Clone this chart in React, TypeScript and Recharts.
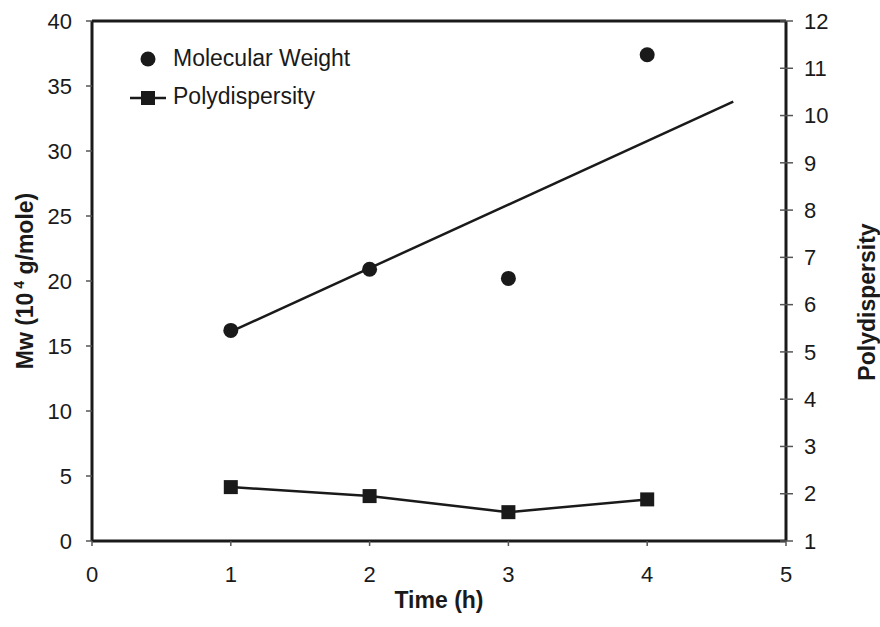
import React from "react";
import {
  ComposedChart,
  Line,
  Scatter,
  XAxis,
  YAxis,
  ReferenceLine,
  Legend,
} from "recharts";

const times = [1, 2, 3, 4];
const molecularWeight = [16.2, 20.9, 20.2, 37.4];
const polydispersity = [2.14, 1.95, 1.61, 1.88];
const trendTimes = [1, 4.62];
const trendWeight = [16.1, 33.8];

const timeTicks = [0, 1, 2, 3, 4, 5];
const mwTicks = [0, 5, 10, 15, 20, 25, 30, 35, 40];
const pdTicks = [1, 2, 3, 4, 5, 6, 7, 8, 9, 10, 11, 12];

const mwData = times.map((t, i) => ({ time: t, mw: molecularWeight[i] }));
const pdData = times.map((t, i) => ({ time: t, pd: polydispersity[i] }));
const trendData = trendTimes.map((t, i) => ({ time: t, mw: trendWeight[i] }));

const ink = "#1a1a1a";
const font = "'Liberation Sans', Arial, sans-serif";
const tickStyle = { fill: ink, fontSize: 22, fontFamily: font };

const TimeTitle = (props: any) => {
  const { viewBox } = props;
  return (
    <text
      x={viewBox.x + viewBox.width / 2}
      y={608}
      textAnchor="middle"
      fill={ink}
      fontSize={23}
      fontWeight="bold"
      fontFamily={font}
    >
      Time (h)
    </text>
  );
};

const MwTitle = (props: any) => {
  const { viewBox } = props;
  const cx = 33;
  const cy = viewBox.y + viewBox.height / 2;
  return (
    <text
      x={cx}
      y={cy}
      transform={`rotate(-90, ${cx}, ${cy})`}
      textAnchor="middle"
      fill={ink}
      fontSize={23}
      fontWeight="bold"
      fontFamily={font}
    >
      Mw (10
      <tspan dy={-9} fontSize={14}>
        {" 4"}
      </tspan>
      <tspan dy={9}> g/mole)</tspan>
    </text>
  );
};

const PdTitle = () => {
  const cx = 875;
  const cy = 302;
  return (
    <text
      x={cx}
      y={cy}
      transform={`rotate(-90, ${cx}, ${cy})`}
      textAnchor="middle"
      fill={ink}
      fontSize={23}
      fontWeight="bold"
      fontFamily={font}
    >
      Polydispersity
    </text>
  );
};

// right axis ticks cross the axis line
const RightTick = (props: any) => {
  const { x, y, payload } = props;
  const ax = x - 18;
  return (
    <g>
      <line x1={ax - 6} x2={ax + 7} y1={y} y2={y} stroke="#555" strokeWidth={1.5} />
      <text x={x} y={y} dy="0.35em" textAnchor="start" {...tickStyle}>
        {payload.value}
      </text>
    </g>
  );
};

const LegendBox = () => (
  <svg width={400} height={120}>
    <circle cx={148} cy={59} r={7.5} fill={ink} />
    <text x={173} y={66} fill={ink} fontSize={23} fontFamily={font}>
      Molecular Weight
    </text>
    <line x1={130} x2={166} y1={98} y2={98} stroke={ink} strokeWidth={2.5} />
    <rect x={141} y={91} width={14} height={14} fill={ink} />
    <text x={173} y={104} fill={ink} fontSize={23} fontFamily={font}>
      Polydispersity
    </text>
  </svg>
);

const App = () => {
  return (
    <div style={{ position: "absolute", left: 0, top: 0, background: "#fff" }}>
      <ComposedChart
        width={880}
        height={627}
        margin={{ top: 21, right: 0, bottom: 0, left: 0 }}
      >
        <XAxis
          dataKey="time"
          type="number"
          domain={[0, 5]}
          ticks={timeTicks}
          height={86}
          tickSize={5}
          tickMargin={20}
          tick={tickStyle}
          axisLine={{ stroke: ink, strokeWidth: 3 }}
          tickLine={{ stroke: "#555", strokeWidth: 1.5 }}
          label={<TimeTitle />}
        />
        <YAxis
          yAxisId="left"
          width={92}
          domain={[0, 40]}
          ticks={mwTicks}
          tickSize={6}
          tickMargin={14}
          tick={tickStyle}
          axisLine={{ stroke: ink, strokeWidth: 3 }}
          tickLine={{ stroke: "#555", strokeWidth: 1.5 }}
          label={<MwTitle />}
        />
        <YAxis
          yAxisId="right"
          orientation="right"
          width={94}
          domain={[1, 12]}
          ticks={pdTicks}
          tickSize={7}
          tickMargin={11}
          tick={<RightTick />}
          tickLine={false}
          axisLine={{ stroke: ink, strokeWidth: 3 }}
          label={<PdTitle />}
        />
        <ReferenceLine yAxisId="left" y={40} stroke={ink} strokeWidth={3} />
        <Line
          yAxisId="left"
          data={trendData}
          dataKey="mw"
          type="linear"
          stroke={ink}
          strokeWidth={2.5}
          dot={false}
          isAnimationActive={false}
          legendType="none"
        />
        <Scatter
          yAxisId="left"
          data={mwData}
          dataKey="mw"
          name="Molecular Weight"
          fill={ink}
          shape={(p: any) => <circle cx={p.cx} cy={p.cy} r={7.5} fill={ink} />}
          isAnimationActive={false}
        />
        <Line
          yAxisId="right"
          data={pdData}
          dataKey="pd"
          name="Polydispersity"
          type="linear"
          stroke={ink}
          strokeWidth={2.5}
          dot={(p: any) => (
            <rect key={p.index} x={p.cx - 7} y={p.cy - 7} width={14} height={14} fill={ink} />
          )}
          isAnimationActive={false}
        />
        <Legend
          layout="vertical"
          align="center"
          verticalAlign="middle"
          wrapperStyle={{ left: 0, top: 0, width: 400 }}
          content={<LegendBox />}
        />
      </ComposedChart>
    </div>
  );
};

export default App;
